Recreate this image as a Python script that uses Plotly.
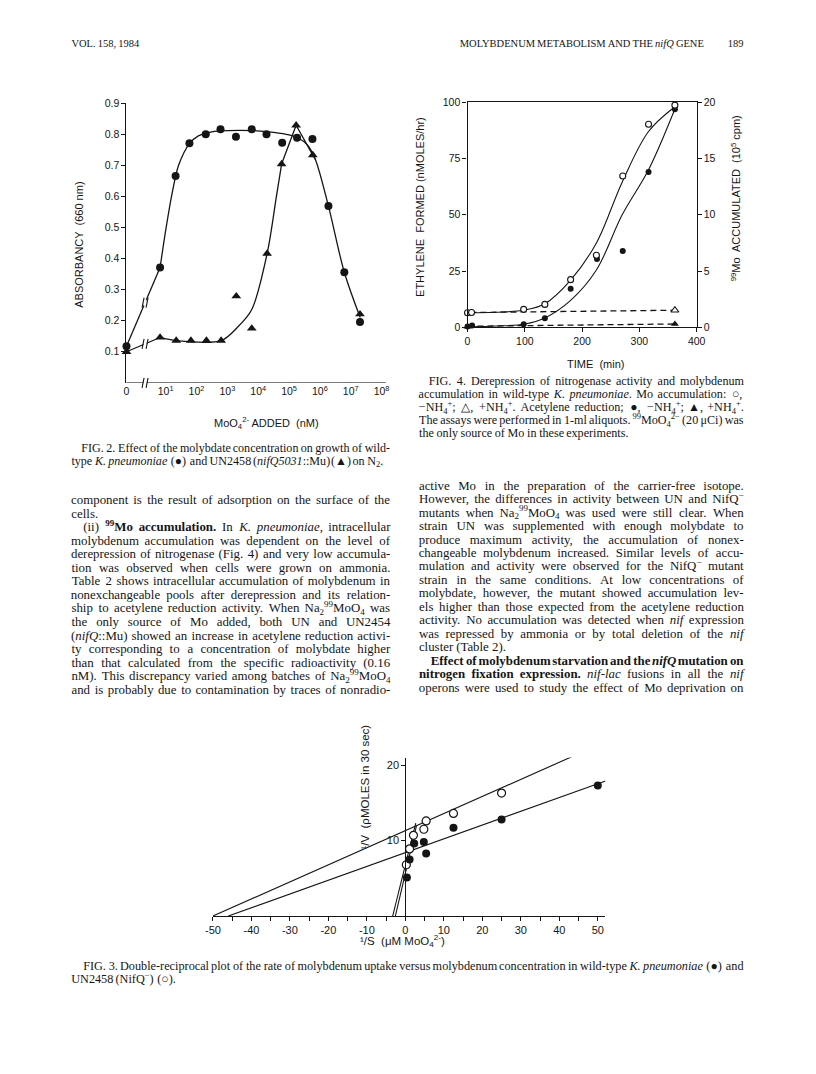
import re
import math
import plotly.graph_objects as go

INK = '#151515'
PW, PH = 816, 1074

# ---------------- FIG. 2 data (absorbancy vs molybdate added, nM) ----------------
fig2_conc_wt = [0, 6.6, 21, 59, 200, 600, 1900, 6200, 18600, 60000, 182000, 575000, 1.9e6, 6.2e6, 2.0e7]
fig2_abs_wt = [0.118, 0.371, 0.666, 0.771, 0.800, 0.816, 0.792, 0.816, 0.800, 0.773, 0.789, 0.785, 0.569, 0.356, 0.196]
fig2_conc_nifq = [0, 6.6, 22, 66, 210, 630, 1950, 6200, 19500, 57500, 170000, 590000, 2.0e7]
fig2_abs_nifq = [0.100, 0.146, 0.136, 0.136, 0.136, 0.136, 0.279, 0.175, 0.416, 0.704, 0.829, 0.733, 0.221]
# hand-drawn curves
fig2_curve_wt_conc = [6.6, 10, 16.2, 26.3, 59, 115, 316, 1000, 6300, 31600, 1e5, 2e5, 4e5, 7.1e5, 1.9e6, 6.2e6, 2.04e7]
fig2_curve_wt_abs = [0.371, 0.49, 0.61, 0.70, 0.77, 0.795, 0.808, 0.812, 0.812, 0.806, 0.798, 0.788, 0.765, 0.72, 0.569, 0.356, 0.21]
fig2_curve_nifq_conc = [6.6, 22, 630, 2100, 6200, 19500, 39000, 57500]
fig2_curve_nifq_abs = [0.146, 0.136, 0.136, 0.178, 0.236, 0.416, 0.60, 0.704]
fig2_peak_nifq_conc = [57500, 170000, 590000, 7.1e5]
fig2_peak_nifq_abs = [0.704, 0.829, 0.733, 0.72]
fig2_tick_exp = [1, 2, 3, 4, 5, 6, 7, 8]

# ---------------- FIG. 4 data (time course) ----------------
fig4_t_open = [0, 7, 98, 135, 180, 225, 271, 316, 362]
fig4_mo_open = [1.30, 1.32, 1.60, 2.04, 4.24, 6.40, 13.44, 18.04, 19.74]      # 10^5 cpm
fig4_t_filled = [0, 8, 98, 135, 180, 226, 271, 316, 362]
fig4_c2h4_filled = [0.4, 0.8, 1.4, 4.1, 17.2, 30.4, 33.9, 69.0, 96.9]         # nmol/hr
fig4_t_open_tri = [362]
fig4_mo_open_tri = [1.52]
fig4_t_filled_tri = [0, 362]
fig4_c2h4_filled_tri = [0.3, 1.5]
fig4_curve_t = [0, 50, 100, 135, 180, 225, 270, 316, 362]
fig4_curve_mo_open = [1.30, 1.34, 1.54, 2.10, 4.2, 7.5, 12.9, 17.4, 19.6]
fig4_curve_c2h4_filled = [0.3, 0.6, 1.5, 4.2, 12.0, 25.5, 50.0, 70.0, 97.0]
fig4_dash_open_t = [5, 362]
fig4_dash_open_mo = [1.32, 1.52]
fig4_dash_filled_t = [0, 362]
fig4_dash_filled_c2h4 = [0.5, 1.5]

# ---------------- FIG. 3 data (double reciprocal) ----------------
fig3_inv_s_wt = [50, 25, 12.5, 5.4, 4.8, 2.3, 1.1, 0.4]
fig3_inv_v_wt = [17.3, 12.8, 11.7, 8.3, 9.8, 9.6, 7.5, 5.1]
fig3_inv_s_nifq = [50, 25, 12.5, 5.4, 4.8, 2.1, 1.1, 0.25]
fig3_inv_v_nifq = [22.5, 16.3, 13.6, 12.6, 11.5, 10.7, 8.9, 6.8]
fig3_line_wt_x = [-46, 52]
fig3_line_wt_y = [0, 17.9]
fig3_line_nifq_x = [-50, 52]
fig3_line_nifq_y = [0, 23.1]
fig3_steep_a_x = [-3.3, 2.7]
fig3_steep_a_y = [0, 12.3]
fig3_steep_b_x = [-2.6, 2.9]
fig3_steep_b_y = [0, 12.0]
fig3_major_ticks = [-50, -40, -30, -20, -10, 0, 10, 20, 30, 40, 50]
fig3_minor_ticks = [-45, -35, -25, -15, -5, 5, 15, 25, 35, 45]

# ---------------- text ----------------
header_left = "VOL. 158, 1984"
header_title = "MOLYBDENUM METABOLISM AND THE <i>nifQ</i> GENE"
header_page = "189"

left_body = [
    ("component is the result of adsorption on the surface of the", True, 0),
    ("cells.", False, 0),
    ("(ii) <b><sup>99</sup>Mo accumulation.</b> In <i>K. pneumoniae</i>, intracellular", True, 12),
    ("molybdenum accumulation was dependent on the level of", True, 0),
    ("derepression of nitrogenase (Fig. 4) and very low accumula-", True, 0),
    ("tion was observed when cells were grown on ammonia.", True, 0),
    ("Table 2 shows intracellular accumulation of molybdenum in", True, 0),
    ("nonexchangeable pools after derepression and its relation-", True, 0),
    ("ship to acetylene reduction activity. When Na<sub>2</sub><sup>99</sup>MoO<sub>4</sub> was", True, 0),
    ("the only source of Mo added, both UN and UN2454", True, 0),
    ("(<i>nifQ</i>::Mu) showed an increase in acetylene reduction activi-", True, 0),
    ("ty corresponding to a concentration of molybdate higher", True, 0),
    ("than that calculated from the specific radioactivity (0.16", True, 0),
    ("nM). This discrepancy varied among batches of Na<sub>2</sub><sup>99</sup>MoO<sub>4</sub>", True, 0),
    ("and is probably due to contamination by traces of nonradio-", True, 0),
]
right_body = [
    ("active Mo in the preparation of the carrier-free isotope.", True, 0),
    ("However, the differences in activity between UN and NifQ<sup>−</sup>", True, 0),
    ("mutants when Na<sub>2</sub><sup>99</sup>MoO<sub>4</sub> was used were still clear. When", True, 0),
    ("strain UN was supplemented with enough molybdate to", True, 0),
    ("produce maximum activity, the accumulation of nonex-", True, 0),
    ("changeable molybdenum increased. Similar levels of accu-", True, 0),
    ("mulation and activity were observed for the NifQ<sup>−</sup> mutant", True, 0),
    ("strain in the same conditions. At low concentrations of", True, 0),
    ("molybdate, however, the mutant showed accumulation lev-", True, 0),
    ("els higher than those expected from the acetylene reduction", True, 0),
    ("activity. No accumulation was detected when <i>nif</i> expression", True, 0),
    ("was repressed by ammonia or by total deletion of the <i>nif</i>", True, 0),
    ("cluster (Table 2).", False, 0),
    ("<b>Effect of molybdenum starvation and the <i>nifQ</i> mutation on</b>", True, 12),
    ("<b>nitrogen fixation expression.</b> <i>nif-lac</i> fusions in all the <i>nif</i>", True, 0),
    ("operons were used to study the effect of Mo deprivation on", True, 0),
]
cap2 = [
    ("FIG. 2. Effect of the molybdate concentration on growth of wild-", True, 10),
    ("type <i>K. pneumoniae</i> (●) and UN2458 (<i>nifQ5031</i>::Mu) (▲) on N<sub>2</sub>.", False, 0),
]
cap4 = [
    ("FIG. 4. Derepression of nitrogenase activity and molybdenum", True, 10),
    ("accumulation in wild-type <i>K. pneumoniae</i>. Mo accumulation: ○,", True, 0),
    ("−NH<sub>4</sub><sup>+</sup>; △, +NH<sub>4</sub><sup>+</sup>. Acetylene reduction; ●, −NH<sub>4</sub><sup>+</sup>; ▲, +NH<sub>4</sub><sup>+</sup>.", True, 0),
    ("The assays were performed in 1-ml aliquots. <sup>99</sup>MoO<sub>4</sub><sup>2−</sup> (20 μCi) was", True, 0),
    ("the only source of Mo in these experiments.", False, 0),
]
cap3 = [
    ("FIG. 3. Double-reciprocal plot of the rate of molybdenum uptake versus molybdenum concentration in wild-type <i>K. pneumoniae</i> (●) and", True, 12),
    ("UN2458 (NifQ<sup>−</sup>) (○).", False, 0),
]

# ---------------- text metrics (Times-compatible) ----------------
TR = dict(zip(" !\"#$%&'()*+,-./", [250, 333, 408, 500, 500, 833, 778, 333, 333, 333, 500, 564, 250, 333, 250, 278]))
TR.update({str(d): 500 for d in range(10)})
TR.update(dict(zip(":;<=>?@", [278, 278, 564, 564, 564, 444, 921])))
TR.update(dict(zip("ABCDEFGHIJKLMNOPQRSTUVWXYZ",
                   [722, 667, 667, 722, 611, 556, 722, 722, 333, 389, 722, 611, 889, 722, 722, 556, 722, 667, 556, 611, 722, 722, 944, 722, 722, 611])))
TR.update(dict(zip("abcdefghijklmnopqrstuvwxyz",
                   [444, 500, 444, 500, 444, 333, 500, 500, 278, 278, 500, 278, 778, 500, 500, 500, 500, 333, 389, 278, 500, 500, 722, 500, 500, 444])))
TR.update({'−': 564, 'μ': 500, 'ρ': 500, '●': 800, '○': 800, '▲': 800, '△': 800})
TB = dict(zip("abcdefghijklmnopqrstuvwxyz",
              [500, 556, 444, 556, 444, 333, 500, 556, 278, 333, 556, 278, 833, 556, 500, 556, 556, 444, 389, 333, 556, 500, 722, 500, 500, 444]))
TB.update(dict(zip("ABCDEFGHIJKLMNOPQRSTUVWXYZ",
                   [722, 667, 722, 722, 667, 611, 778, 778, 389, 500, 778, 667, 944, 722, 778, 611, 778, 722, 556, 667, 722, 722, 1000, 722, 722, 667])))
TI = dict(zip("abcdefghijklmnopqrstuvwxyz",
              [500, 500, 444, 500, 444, 278, 500, 500, 278, 278, 444, 278, 722, 500, 500, 500, 500, 389, 389, 278, 500, 444, 667, 444, 444, 389]))
TI.update(dict(zip("ABCDEFGHIJKLMNOPQRSTUVWXYZ",
                   [611, 611, 667, 722, 611, 611, 722, 722, 333, 444, 667, 556, 833, 667, 722, 611, 722, 611, 500, 556, 722, 611, 833, 611, 556, 556])))


def parse_words(line):
    state = {'b': False, 'i': False, 'sub': False, 'sup': False}
    words = [[]]
    for tok in re.split(r'(<[^>]+>)', line):
        if not tok:
            continue
        m = re.fullmatch(r'<(/?)(\w+)>', tok)
        if m:
            state[m.group(2)] = (m.group(1) == '')
            continue
        parts = tok.split(' ')
        for k, p in enumerate(parts):
            if k > 0:
                words.append([])
            if p:
                words[-1].append((p, dict(state)))
    return [w for w in words if w]


def char_em(c, st):
    if st['i']:
        base = TI.get(c, TR.get(c, 500))
    elif st['b']:
        base = TB.get(c, TR.get(c, 500) * 1.03)
    else:
        base = TR.get(c, 500)
    scale = 0.7 if (st['sub'] or st['sup']) else 1.0
    return base / 1000.0 * scale


def word_em(w):
    return sum(char_em(c, st) for t, st in w for c in t)


def render_word(w):
    out = ''
    for t, st in w:
        s = t
        if st['sub']:
            s = '<sub>' + s + '</sub>'
        if st['sup']:
            s = '<sup>' + s + '</sup>'
        if st['i']:
            s = '<i>' + s + '</i>'
        if st['b']:
            s = '<b>' + s + '</b>'
        out += s
    return out


def fit_size(blocks, space_em=0.22):
    sizes = []
    for lines, left, right in blocks:
        for line, just, indent in lines:
            if not just:
                continue
            words = parse_words(line)
            em = sum(word_em(w) for w in words) + space_em * (len(words) - 1)
            sizes.append((right - left - indent) / em)
    return min(sizes)


def layout_block(lines, left, right, y0, dy, size):
    xs, ys, ts = [], [], []
    for k, (line, just, indent) in enumerate(lines):
        words = parse_words(line)
        widths = [word_em(w) * size for w in words]
        n = len(words)
        avail = right - left - indent
        if just and n > 1:
            gap = (avail - sum(widths)) / (n - 1)
        else:
            gap = 0.25 * size
        x = left + indent
        for w, wd in zip(words, widths):
            xs.append(x + wd / 2.0)
            ys.append(y0 + k * dy)
            ts.append(render_word(w))
            x += wd + gap
    return xs, ys, ts


def px(x):
    return x / PW


def py(y):
    return 1 - y / PH


# ---------------- geometry ----------------
ZERO_POS = 1 - (161 - 121) / 31.5
FIG2_XMAX = 8 + (386 - 381.5) / 31.5
FIG2_BOTTOM = 381.1
FIG2_TICK = 4 * 0.9 / (FIG2_BOTTOM - 98.3)   # 4 px expressed in absorbancy units


def lpos(c):
    return math.log10(c) if c > 0 else ZERO_POS


fig = go.Figure()

LW = 1.3
# ---- FIG 2 ----
fig2_tick_pos = [ZERO_POS] + fig2_tick_exp
tx, ty = [], []
for tv in fig2_tick_pos:
    tx += [tv, tv, None]
    ty += [0, -FIG2_TICK, None]
fig.add_trace(go.Scatter(x=[ZERO_POS, FIG2_XMAX], y=[0, 0], mode='lines', line=dict(color=INK, width=1.2),
                         xaxis='x', yaxis='y', cliponaxis=False))
fig.add_trace(go.Scatter(x=tx, y=ty, mode='lines', line=dict(color=INK, width=1.1),
                         xaxis='x', yaxis='y', cliponaxis=False))
for conc, ab in ((fig2_conc_wt, fig2_abs_wt), (fig2_conc_nifq, fig2_abs_nifq)):
    fig.add_trace(go.Scatter(x=[lpos(conc[0]), lpos(conc[1])], y=[ab[0], ab[1]], mode='lines',
                             line=dict(color=INK, width=LW), xaxis='x', yaxis='y', cliponaxis=False))
fig.add_trace(go.Scatter(x=[lpos(c) for c in fig2_curve_wt_conc], y=fig2_curve_wt_abs, mode='lines',
                         line=dict(color=INK, width=LW, shape='spline', smoothing=0.9), xaxis='x', yaxis='y'))
fig.add_trace(go.Scatter(x=[lpos(c) for c in fig2_curve_nifq_conc], y=fig2_curve_nifq_abs, mode='lines',
                         line=dict(color=INK, width=LW, shape='spline', smoothing=0.9), xaxis='x', yaxis='y'))
fig.add_trace(go.Scatter(x=[lpos(c) for c in fig2_peak_nifq_conc], y=fig2_peak_nifq_abs, mode='lines',
                         line=dict(color=INK, width=LW), xaxis='x', yaxis='y'))
fig.add_trace(go.Scatter(x=[lpos(c) for c in fig2_conc_wt], y=fig2_abs_wt, mode='markers',
                         marker=dict(symbol='circle', size=8, color=INK), xaxis='x', yaxis='y', cliponaxis=False))
fig.add_trace(go.Scatter(x=[lpos(c) for c in fig2_conc_nifq], y=fig2_abs_nifq, mode='markers',
                         marker=dict(symbol='triangle-up', size=8.5, color=INK), xaxis='x', yaxis='y', cliponaxis=False))

# ---- FIG 4 ----
fig.add_trace(go.Scatter(x=fig4_curve_t, y=fig4_curve_mo_open, mode='lines',
                         line=dict(color=INK, width=1.1, shape='spline', smoothing=1.0), xaxis='x2', yaxis='y3'))
fig.add_trace(go.Scatter(x=fig4_curve_t, y=fig4_curve_c2h4_filled, mode='lines',
                         line=dict(color=INK, width=1.1, shape='spline', smoothing=1.0), xaxis='x2', yaxis='y2'))
fig.add_trace(go.Scatter(x=fig4_dash_open_t, y=fig4_dash_open_mo, mode='lines',
                         line=dict(color=INK, width=1.3, dash='6px,4px'), xaxis='x2', yaxis='y3'))
fig.add_trace(go.Scatter(x=fig4_dash_filled_t, y=fig4_dash_filled_c2h4, mode='lines',
                         line=dict(color=INK, width=1.3, dash='6px,4px'), xaxis='x2', yaxis='y2'))
fig.add_trace(go.Scatter(x=fig4_t_open, y=fig4_mo_open, mode='markers',
                         marker=dict(symbol='circle', size=6, color='white', line=dict(color=INK, width=1.1)),
                         xaxis='x2', yaxis='y3', cliponaxis=False))
fig.add_trace(go.Scatter(x=fig4_t_filled, y=fig4_c2h4_filled, mode='markers',
                         marker=dict(symbol='circle', size=6, color=INK), xaxis='x2', yaxis='y2', cliponaxis=False))
fig.add_trace(go.Scatter(x=fig4_t_open_tri, y=fig4_mo_open_tri, mode='markers',
                         marker=dict(symbol='triangle-up', size=7, color='white', line=dict(color=INK, width=1.1)),
                         xaxis='x2', yaxis='y3', cliponaxis=False))
fig.add_trace(go.Scatter(x=fig4_t_filled_tri, y=fig4_c2h4_filled_tri, mode='markers',
                         marker=dict(symbol='triangle-up', size=7, color=INK), xaxis='x2', yaxis='y2', cliponaxis=False))

# ---- FIG 3 ----
for lx, ly in ((fig3_line_wt_x, fig3_line_wt_y), (fig3_line_nifq_x, fig3_line_nifq_y),
               (fig3_steep_a_x, fig3_steep_a_y), (fig3_steep_b_x, fig3_steep_b_y)):
    fig.add_trace(go.Scatter(x=lx, y=ly, mode='lines', line=dict(color=INK, width=1.1),
                             xaxis='x3', yaxis='y4', cliponaxis=False))
fig.add_trace(go.Scatter(x=fig3_inv_s_nifq, y=fig3_inv_v_nifq, mode='markers',
                         marker=dict(symbol='circle', size=8, color='white', line=dict(color=INK, width=1.2)),
                         xaxis='x3', yaxis='y4', cliponaxis=False))
fig.add_trace(go.Scatter(x=fig3_inv_s_wt, y=fig3_inv_v_wt, mode='markers',
                         marker=dict(symbol='circle', size=8, color=INK), xaxis='x3', yaxis='y4', cliponaxis=False))

# ---- page text (pixel overlay) ----
body_size = fit_size([(left_body, 65, 390), (right_body, 420, 751)])
text_blocks = [
    (left_body, 65, 390, 500.5, 13.7, body_size),
    (right_body, 420, 751, 486.0, 13.6, body_size),
    (cap2, 65, 390, 447.5, 13.2, fit_size([(cap2, 65, 390)], 0.25)),
    (cap4, 420, 751, 380.7, 13.0, fit_size([(cap4, 420, 751)], 0.24)),
    (cap3, 65, 751, 972.0, 13.2, fit_size([(cap3, 65, 751)], 0.26)),
]
for lines, l, r, y0, dy, sz in text_blocks:
    xs, ys, ts = layout_block(lines, l, r, y0, dy, sz)
    fig.add_trace(go.Scatter(x=xs, y=ys, text=ts, mode='text', textposition='middle center',
                             textfont=dict(family='Liberation Serif', size=sz, color=INK),
                             xaxis='x9', yaxis='y9', hoverinfo='skip', cliponaxis=False))

HS = 10.5
hw_title = sum(word_em(w) for w in parse_words(header_title)) * HS + 5 * 0.25 * HS
hw_page = word_em(parse_words(header_page)[0]) * HS
header_lines = [
    ([(header_left, False, 0)], 65),
    ([(header_title, False, 0)], 586 - hw_title / 2),
    ([(header_page, False, 0)], 751 - hw_page),
]
for lines, l in header_lines:
    xs, ys, ts = layout_block(lines, l, 751, 39, 0, HS)
    fig.add_trace(go.Scatter(x=xs, y=ys, text=ts, mode='text', textposition='middle center',
                             textfont=dict(family='Liberation Serif', size=HS, color=INK),
                             xaxis='x9', yaxis='y9', hoverinfo='skip', cliponaxis=False))

# ---- axis titles ----
SANS = 'Liberation Sans'
annotations = []


def ann(x, y, text, angle=0, size=11):
    annotations.append(dict(x=px(x), y=py(y), xref='paper', yref='paper', text=text, showarrow=False,
                            textangle=angle, font=dict(family=SANS, size=size, color=INK),
                            xanchor='center', yanchor='middle'))


ann(73, 241, 'ABSORBANCY  (660 nm)', -90)
ann(264, 422, 'MoO<sub>4</sub><sup>2-</sup> ADDED  (nM)')
ann(421, 203, 'ETHYLENE  FORMED (nMOLES/hr)', -90)
ann(743, 195, '<sup>99</sup>Mo  ACCUMULATED  (10<sup>5</sup> cpm)', -90)
ann(600, 362, 'TIME  (min)')
ann(365, 790, '¹/V  (ρMOLES in 30 sec)', -90, 11.5)
ann(403, 946, '¹/S  (μM MoO<sub>4</sub><sup>2-</sup>)', 0, 11.5)

# ---- FIG 2 break marks ----
shapes = []
BRK_U = 1 + (140 - 161) / 31.5


def line_y(conc, ab, u):
    u0, u1 = lpos(conc[0]), lpos(conc[1])
    return ab[0] + (ab[1] - ab[0]) * (u - u0) / (u1 - u0)


for yb in (line_y(fig2_conc_wt, fig2_abs_wt, BRK_U), line_y(fig2_conc_nifq, fig2_abs_nifq, BRK_U)):
    shapes.append(dict(type='rect', xref='x', yref='y', xsizemode='pixel', ysizemode='pixel',
                       xanchor=BRK_U, yanchor=yb, x0=-1.6, x1=1.6, y0=-3, y1=3,
                       fillcolor='white', line=dict(width=0), layer='above'))
    for dx in (-2.0, 2.0):
        shapes.append(dict(type='line', xref='x', yref='y', xsizemode='pixel', ysizemode='pixel',
                           xanchor=BRK_U, yanchor=yb, x0=dx - 1.0, x1=dx + 1.0, y0=-5, y1=5,
                           line=dict(color=INK, width=1.1), layer='above'))
shapes.append(dict(type='rect', xref='x', yref='paper', xsizemode='pixel',
                   xanchor=BRK_U, x0=-1.6, x1=1.6, y0=py(FIG2_BOTTOM + 2), y1=py(FIG2_BOTTOM - 2),
                   fillcolor='white', line=dict(width=0), layer='above'))
for dx in (-2.0, 2.0):
    shapes.append(dict(type='line', xref='x', yref='paper', xsizemode='pixel',
                       xanchor=BRK_U, x0=dx - 1.0, x1=dx + 1.0,
                       y0=py(FIG2_BOTTOM + 5), y1=py(FIG2_BOTTOM - 5),
                       line=dict(color=INK, width=1.1), layer='above'))

# ---- axes ----
axis_common = dict(showline=True, linecolor=INK, linewidth=1.2, ticks='outside', ticklen=4, tickwidth=1.1,
                   tickcolor=INK, showgrid=False, zeroline=False, fixedrange=True,
                   tickfont=dict(family=SANS, size=10.5, color=INK))

layout = dict(
    width=PW, height=PH, autosize=False,
    margin=dict(l=0, r=0, t=0, b=0, pad=0),
    paper_bgcolor='white', plot_bgcolor='rgba(0,0,0,0)',
    showlegend=False, hovermode=False,
    annotations=annotations, shapes=shapes,
    xaxis=dict(axis_common, domain=[px(121), px(386)], anchor='y',
               range=[ZERO_POS, FIG2_XMAX], showline=False, ticks='', ticklabelstandoff=1,
               tickmode='array', tickvals=fig2_tick_pos,
               ticktext=['0'] + ['10<sup>%d</sup>' % e for e in fig2_tick_exp]),
    yaxis=dict(axis_common, domain=[py(FIG2_BOTTOM), py(98.3)], anchor='x', range=[0, 0.9],
               tickmode='array', tickvals=[0.1, 0.2, 0.3, 0.4, 0.5, 0.6, 0.7, 0.8, 0.9],
               ticktext=['0.1', '0.2', '0.3', '0.4', '0.5', '0.6', '0.7', '0.8', '0.9']),
    xaxis2=dict(axis_common, domain=[px(469.3), px(703.3)], anchor='y2', range=[0, 400], mirror=True,
                tickmode='array', tickvals=[0, 100, 200, 300, 400]),
    yaxis2=dict(axis_common, domain=[py(325), py(97.3)], anchor='x2', range=[0, 100], mirror=True,
                tickmode='array', tickvals=[0, 25, 50, 75, 100]),
    yaxis3=dict(axis_common, overlaying='y2', anchor='x2', side='right', range=[0, 20], showline=False,
                tickmode='array', tickvals=[0, 5, 10, 15, 20]),
    xaxis3=dict(axis_common, domain=[px(209.3), px(610.2)], anchor='y4', range=[-50, 52],
                tickmode='array', tickvals=fig3_major_ticks, ticktext=[str(v) for v in fig3_major_ticks],
                minor=dict(tickmode='array', tickvals=fig3_minor_ticks, ticks='outside', ticklen=4,
                           tickwidth=1.1, tickcolor=INK, showgrid=False),
                tickfont=dict(family=SANS, size=11, color=INK)),
    yaxis4=dict(axis_common, domain=[py(920.3), py(760.1)], anchor='free', position=px(405.8), range=[0, 21],
                tickmode='array', tickvals=[10, 20], tickfont=dict(family=SANS, size=11, color=INK)),
    xaxis9=dict(domain=[0, 1], range=[0, PW], visible=False, fixedrange=True, anchor='y9'),
    yaxis9=dict(domain=[0, 1], range=[PH, 0], visible=False, fixedrange=True, anchor='x9'),
)
fig.update_layout(**layout)
fig.write_html("out.html", config={'displayModeBar': False},
               post_script="document.body.style.margin='0';document.body.style.overflow='hidden';")
